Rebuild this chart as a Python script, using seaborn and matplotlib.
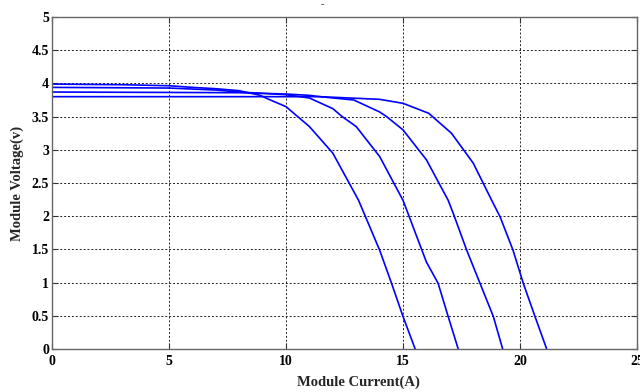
import pandas as pd
import numpy as np
import matplotlib
matplotlib.use('Agg')
import matplotlib.pyplot as plt
import seaborn as sns

# current (A) and voltage (V) points
current_a = [0, 3, 5, 6, 7, 8, 8.9, 9.2, 10.0, 10.5, 11.0, 11.45, 12.0, 13.1, 14.0, 14.5, 15.0, 15.52]
voltage_a = [3.99, 3.98, 3.965, 3.94, 3.92, 3.89, 3.82, 3.77, 3.65, 3.50, 3.35, 3.17, 2.95, 2.24, 1.49, 1.00, 0.49, 0.0]

current_b = [0, 5, 7, 8, 9, 10.0, 11.0, 12.0, 12.4, 13.0, 14.0, 15.0, 16.0, 16.5, 16.93, 17.36]
voltage_b = [3.94, 3.93, 3.90, 3.87, 3.85, 3.83, 3.78, 3.62, 3.50, 3.35, 2.90, 2.24, 1.31, 0.99, 0.49, 0.0]

current_c = [0, 8, 10, 11.0, 11.45, 12.9, 14.0, 14.3, 15.0, 16.0, 16.93, 17.15, 17.72, 18.29, 18.86, 19.26]
voltage_c = [3.87, 3.86, 3.84, 3.82, 3.80, 3.75, 3.57, 3.50, 3.30, 2.85, 2.24, 2.04, 1.49, 0.99, 0.49, 0.0]

current_d = [0, 10, 11.45, 14.0, 15.0, 16.1, 17.07, 18.0, 18.79, 19.15, 19.7, 20.14, 20.64, 21.14]
voltage_d = [3.80, 3.80, 3.80, 3.76, 3.70, 3.55, 3.25, 2.80, 2.24, 1.99, 1.49, 0.99, 0.49, 0.0]

x_ticks = [0, 5, 10, 15, 20, 25]
y_ticks = [0, 0.5, 1, 1.5, 2, 2.5, 3, 3.5, 4, 4.5, 5]
y_tick_labels = ['0', '0.5', '1', '1.5', '2', '2.5', '3', '3.5', '4', '4.5', '5']

curves = []
for name, cur, vol in [('a', current_a, voltage_a), ('b', current_b, voltage_b),
                       ('c', current_c, voltage_c), ('d', current_d, voltage_d)]:
    curves.append(pd.DataFrame({'current': cur, 'voltage': vol, 'curve': name}))
df = pd.concat(curves, ignore_index=True)

sns.set_style('white')
plt.rcParams['font.family'] = ['Liberation Serif', 'DejaVu Serif']
plt.rcParams['font.weight'] = 'bold'

fig = plt.figure(figsize=(6.4, 3.92), dpi=100)
ax = fig.add_axes([52/640, 1 - 349/392, 585/640, 332/392])

sns.lineplot(data=df, x='current', y='voltage', hue='curve', sort=False,
             palette=['#0000ff'] * 4, linewidth=1.2, legend=False, ax=ax)

ax.set_xlim(0, 25)
ax.set_ylim(0, 5)
ax.set_xticks(x_ticks)
ax.set_yticks(y_ticks)
ax.set_xticklabels([str(t) for t in x_ticks], fontsize=10, fontweight='bold')
ax.set_yticklabels(y_tick_labels, fontsize=10, fontweight='bold')
ax.grid(True, color='#222222', linestyle=(0, (2, 2)), linewidth=0.7)
ax.tick_params(direction='in', length=4, width=0.8, top=True, right=True,
               bottom=True, left=True, colors='#333333', labelcolor='black')
ax.tick_params(axis='x', pad=4)
ax.tick_params(axis='y', pad=2)
for sp in ax.spines.values():
    sp.set_color('#666666')
    sp.set_linewidth(1.0)

ax.set_xlabel('Module Current(A)', fontsize=10.5, fontweight='bold')
ax.set_ylabel('Module Voltage(v)', fontsize=10.5, fontweight='bold')
ax.xaxis.set_label_coords((358 - 52) / 585, -0.08)
ax.yaxis.set_label_coords(-0.048, 0.5)

fig.text(322/640, 1 - 5/392, '-', ha='center', va='center', fontsize=7, color='#444444')

fig.savefig('out.png', dpi=100)
